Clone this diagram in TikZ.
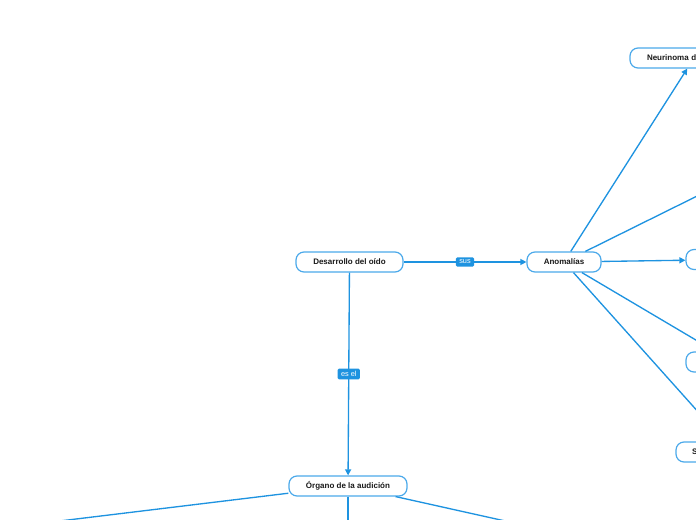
\documentclass[tikz,border=0pt]{standalone}
\usepackage{fontspec}
\setsansfont{Liberation Sans}
\usetikzlibrary{arrows.meta}
\definecolor{lineblue}{HTML}{1E93E0}
\definecolor{boxblue}{HTML}{4BA9EA}
\begin{document}
\begin{tikzpicture}[x=0.75pt,y=-0.75pt,
  topic/.style={draw=boxblue, line width=0.9pt, fill=white, rounded corners=6pt,
    minimum height=15pt, inner sep=0pt,
    font=\sffamily\bfseries\fontsize{6}{7}\selectfont, text=black!90},
  conn/.style={draw=lineblue, line width=1pt},
  arr/.style={conn, -{Triangle[length=4.5pt,width=4.5pt]}},
  lbl/.style={fill=lineblue, text=white, rounded corners=1pt,
    font=\sffamily\fontsize{5.5}{6}\selectfont, inner xsep=2.5pt, inner ysep=2pt}]
\useasboundingbox (0,0) rectangle (696,520);
\clip (0,0) rectangle (696,520);
% main nodes
\node[topic, minimum width=80.25pt] (des) at (349.5,262) {Desarrollo del oído};
\node[topic, minimum width=55.5pt] (ano) at (564,262) {Anomalías};
\node[topic, minimum width=88.5pt] (org) at (348,486) {Órgano de la audición};
% children of Anomalías
\node[topic, minimum width=96pt, text width=70.5pt, align=left] (neu) at (694,58) {Neurinoma d};
\node[topic, minimum width=75pt] (c1) at (790,150) {};
\node[topic, minimum width=75pt] (c2) at (736,259.5) {};
\node[topic, minimum width=70.5pt] (c3) at (733,362) {};
\node[topic, minimum width=87pt, text width=63pt, align=left] (c4) at (734,452) {S};
% children of Órgano
\node[topic, minimum width=80pt] (o1) at (-97,540) {};
\node[topic, minimum width=80pt] (o2) at (348,570) {};
\node[topic, minimum width=80pt] (o3) at (622,547) {};
% connectors
\draw[arr] (des) -- node[lbl] {sus} (ano);
\draw[arr] (des) -- node[lbl] {es el} (org);
\draw[arr] (ano) -- (neu);
\draw[arr] (ano) -- (c1);
\draw[arr] (ano) -- (c2);
\draw[arr] (ano) -- (c3);
\draw[arr] (ano) -- (c4);
\draw[arr] (org) -- (o1);
\draw[arr] (org) -- (o2);
\draw[arr] (org) -- (o3);
\end{tikzpicture}
\end{document}
